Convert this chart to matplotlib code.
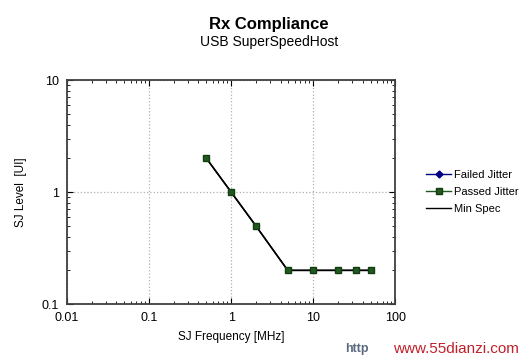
import numpy as np
import matplotlib.pyplot as plt
from matplotlib.lines import Line2D

# SJ tolerance data
freq_mhz = [0.5, 1, 2, 4.9, 10, 20, 33, 50]
passed_ui = [2, 1, 0.5, 0.2, 0.2, 0.2, 0.2, 0.2]
failed_freq = []
failed_ui = []
spec_freq = [0.5, 1, 2, 4.9, 10, 20, 33, 50]
spec_ui = [2, 1, 0.5, 0.2, 0.2, 0.2, 0.2, 0.2]
xticks = [0.01, 0.1, 1, 10, 100]
xtick_labels = ['0.01', '0.1', '1', '10', '100']
yticks = [0.1, 1, 10]
ytick_labels = ['0.1', '1', '10']

plt.rcParams['font.family'] = ['Liberation Sans', 'DejaVu Sans']

fig = plt.figure(figsize=(5.27, 3.62), dpi=100)
ax = fig.add_axes([0.127, 0.160, 0.623, 0.619])

ax.plot(spec_freq, spec_ui, color='black', lw=1.1, zorder=2)
ax.plot(freq_mhz, passed_ui, color='black', lw=1.1,
        marker='s', ms=4.8, mfc='#1f5a1f', mec='#123d12', zorder=3)
ax.plot(failed_freq, failed_ui, color='#000080', marker='D', ms=4)

ax.set_xscale('log')
ax.set_yscale('log')
ax.set_xlim(0.01, 100)
ax.set_ylim(0.1, 10)
ax.set_xticks(xticks)
ax.set_xticklabels(xtick_labels)
ax.set_yticks(yticks)
ax.set_yticklabels(ytick_labels)
ax.grid(True, which='major', color='#b0b0b0', ls=':', lw=0.9)
ax.tick_params(which='major', direction='in', length=4, labelsize=9, pad=6)
ax.tick_params(which='minor', direction='in', length=2)
ax.tick_params(top=True, right=True, which='both')
for s in ax.spines.values():
    s.set_color('#404040')
    s.set_linewidth(1.3)

ax.set_xlabel('SJ Frequency [MHz]', fontsize=8.5, labelpad=5)
ax.set_ylabel('SJ Level  [UI]', fontsize=8.5, labelpad=10)

fig.text(0.51, 0.933, 'Rx Compliance', ha='center', va='center',
         fontsize=12, fontweight='bold')
fig.text(0.51, 0.885, 'USB SuperSpeedHost', ha='center', va='center',
         fontsize=10)

handles = [
    Line2D([], [], color='#000080', marker='D', ms=3.5, lw=1),
    Line2D([], [], color='#1f5a1f', marker='s', ms=4.5, lw=1, mec='#123d12'),
    Line2D([], [], color='black', lw=1),
]
fig.legend(handles, ['Failed Jitter', 'Passed Jitter', 'Min Spec'],
           loc='center left', bbox_to_anchor=(0.79, 0.47), frameon=False,
           fontsize=8, handlelength=2.2, handletextpad=0.3,
           labelspacing=0.6)

fig.text(0.655, 0.035, 'http', color='#5a6b80', fontsize=9, fontweight='bold',
         ha='left', va='center')
fig.text(0.985, 0.035, 'www.55dianzi.com', color='#c0202a', fontsize=11,
         ha='right', va='center')

fig.savefig('out.png', dpi=100)
